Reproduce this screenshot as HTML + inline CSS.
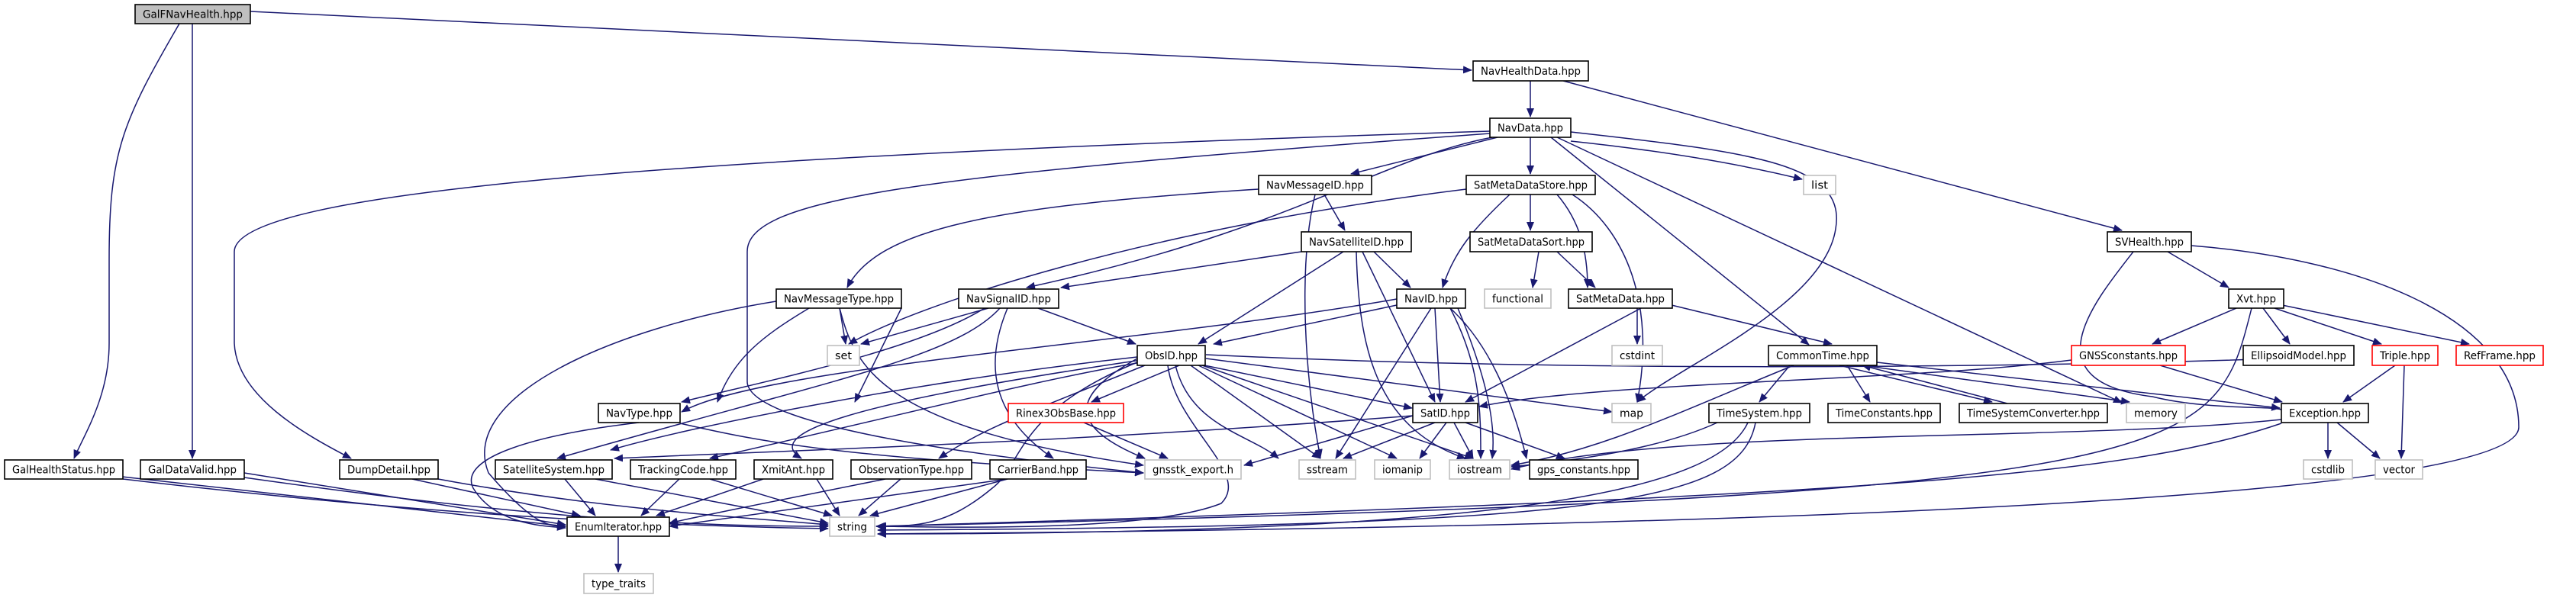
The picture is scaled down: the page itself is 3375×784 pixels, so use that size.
<!DOCTYPE html>
<html><head><meta charset="utf-8"><style>
html,body{margin:0;padding:0;background:#fff;}
svg{display:block;}
text{font-family:"DejaVu Sans","Liberation Sans",sans-serif;font-size:14px;fill:#000;}
.n{fill:#fff;stroke:#000;stroke-width:1.6;}
.g{fill:#fff;stroke:#bfbfbf;stroke-width:1.6;}
.r{fill:#fff;stroke:#ff0000;stroke-width:1.6;}
.e{fill:none;stroke:#191970;stroke-width:1.5;marker-end:url(#a);}
</style></head><body>
<svg width="3375" height="784" viewBox="0 0 3375 784" xmlns="http://www.w3.org/2000/svg">
<defs><marker id="a" markerWidth="12" markerHeight="10" refX="11" refY="5" orient="auto" markerUnits="userSpaceOnUse"><path d="M0,0 L12,5 L0,10 z" fill="#191970"/></marker></defs>
<g>
<path class="e" d="M328 15 L1928 92"/>
<path class="e" d="M235 31 C160 160 143 200 143 340 L143 450 C143 520 110 570 97 601"/>
<path class="e" d="M252 31 L252 601"/>
<path class="e" d="M2005 106 L2005 153"/>
<path class="e" d="M2048 106 L2780 302"/>
<path class="e" d="M1952 172 C900 205 307 250 307 330 L307 450 C310 520 400 570 460 601"/>
<path class="e" d="M1952 175 C1200 230 979 260 979 330 L979 500 C979 560 1300 600 1498 620"/>
<path class="e" d="M1962 180 L1770 228"/>
<path class="e" d="M2005 180 L2005 228"/>
<path class="e" d="M1955 180 C1800 210 1700 300 1345 377"/>
<path class="e" d="M2058 185 C2200 200 2300 220 2361 235"/>
<path class="e" d="M2058 173 C2300 200 2420 215 2405 300 C2390 400 2200 480 2145 527"/>
<path class="e" d="M2040 180 L2780 528"/>
<path class="e" d="M2032 180 L2370 452"/>
<path class="e" d="M1649 248 C1300 270 1150 300 1110 377"/>
<path class="e" d="M1735 255 L1762 302"/>
<path class="e" d="M1723 255 C1700 350 1710 500 1730 600"/>
<path class="e" d="M1921 248 C1500 300 1200 400 1112 451"/>
<path class="e" d="M1978 255 C1930 300 1905 330 1890 377"/>
<path class="e" d="M2005 255 L2005 302"/>
<path class="e" d="M2040 255 C2070 290 2080 330 2080 377"/>
<path class="e" d="M2060 255 C2130 300 2170 400 2145 527"/>
<path class="e" d="M1705 330 L1390 377"/>
<path class="e" d="M1760 330 L1570 451"/>
<path class="e" d="M1800 330 L1848 377"/>
<path class="e" d="M1785 330 L1880 527"/>
<path class="e" d="M1777 330 C1780 450 1800 560 1920 601"/>
<path class="e" d="M2016 330 L2008 377"/>
<path class="e" d="M2040 330 L2090 377"/>
<path class="e" d="M1060 404 C1000 440 960 470 940 527"/>
<path class="e" d="M1017 395 C800 430 600 520 640 620 C700 690 720 690 741 690"/>
<path class="e" d="M1100 404 C1120 480 1150 560 1498 610"/>
<path class="e" d="M1181 404 L1120 527"/>
<path class="e" d="M1100 404 L1108 451"/>
<path class="e" d="M1295 404 L1128 451"/>
<path class="e" d="M1360 404 L1488 451"/>
<path class="e" d="M1290 404 C1200 460 1000 500 893 527"/>
<path class="e" d="M1310 404 C1250 470 1080 500 730 601"/>
<path class="e" d="M1320 404 C1280 500 1320 560 1380 601"/>
<path class="e" d="M1830 400 L1590 451"/>
<path class="e" d="M1830 392 C1500 450 1000 480 893 540"/>
<path class="e" d="M1880 404 L1887 527"/>
<path class="e" d="M1875 404 L1750 601"/>
<path class="e" d="M1900 404 C1940 480 1940 540 1940 601"/>
<path class="e" d="M1910 404 C1950 500 1960 560 1955 601"/>
<path class="e" d="M1900 404 C1950 450 1980 520 2000 601"/>
<path class="e" d="M2150 404 L1920 527"/>
<path class="e" d="M2145 404 L2145 451"/>
<path class="e" d="M2190 400 L2400 451"/>
<path class="e" d="M1580 470 L2112 540"/>
<path class="e" d="M1580 465 C2100 490 2700 480 2987 470"/>
<path class="e" d="M1545 479 L1430 527"/>
<path class="e" d="M1578 479 L1850 535"/>
<path class="e" d="M1560 479 L1730 601"/>
<path class="e" d="M1570 479 L1830 601"/>
<path class="e" d="M1575 479 L1930 601"/>
<path class="e" d="M1540 479 C1560 560 1640 570 1675 601"/>
<path class="e" d="M1490 470 C1400 520 1400 560 1500 601"/>
<path class="e" d="M1530 479 C1540 560 1640 620 1600 660 C1500 700 1200 690 1148 690"/>
<path class="e" d="M1500 479 C1350 540 1290 560 1230 601"/>
<path class="e" d="M1495 475 C1350 500 1200 540 930 601"/>
<path class="e" d="M1495 472 C1100 530 1000 570 1050 601"/>
<path class="e" d="M1490 468 C1200 500 900 560 800 590"/>
<path class="e" d="M1490 475 C1330 540 1340 610 1300 640 C1240 690 1200 690 1148 690"/>
<path class="e" d="M1420 554 L1530 601"/>
<path class="e" d="M1851 545 C1400 580 1050 590 805 601"/>
<path class="e" d="M1851 545 L1630 610"/>
<path class="e" d="M1880 554 L1760 601"/>
<path class="e" d="M1895 554 L1860 601"/>
<path class="e" d="M1905 554 L1930 601"/>
<path class="e" d="M1920 554 L2050 601"/>
<path class="e" d="M2350 479 C2200 540 2100 590 1980 610"/>
<path class="e" d="M2345 479 L2305 527"/>
<path class="e" d="M2420 479 L2450 527"/>
<path class="e" d="M2410 479 L2610 527"/>
<path class="e" d="M2630 529 L2440 479"/>
<path class="e" d="M2440 479 L2790 527"/>
<path class="e" d="M2459 475 L2987 535"/>
<path class="e" d="M2714 472 C2500 500 2100 500 1938 533"/>
<path class="e" d="M2830 479 L2990 527"/>
<path class="e" d="M2250 554 C2150 600 1990 610 1980 612"/>
<path class="e" d="M2290 554 C2250 640 2000 700 1150 700"/>
<path class="e" d="M2300 554 C2280 660 2100 690 1150 695"/>
<path class="e" d="M2989 550 C2700 580 2200 560 1980 615"/>
<path class="e" d="M2989 555 C2800 620 2500 650 1150 690"/>
<path class="e" d="M3050 554 L3050 601"/>
<path class="e" d="M3062 554 L3118 601"/>
<path class="e" d="M3138 479 L3070 527"/>
<path class="e" d="M3150 479 L3146 601"/>
<path class="e" d="M2930 404 L2820 451"/>
<path class="e" d="M2965 404 L3000 451"/>
<path class="e" d="M2980 404 L3120 451"/>
<path class="e" d="M2990 400 L3235 451"/>
<path class="e" d="M2950 404 C2900 600 2900 650 1150 690"/>
<path class="e" d="M2795 330 C2740 400 2660 500 2820 520 C2900 540 3000 530 2990 540"/>
<path class="e" d="M2871 322 C3100 340 3300 420 3300 560 C3300 650 2400 690 1150 700"/>
<path class="e" d="M2840 330 L2920 377"/>
<path class="e" d="M160 625 L741 690"/>
<path class="e" d="M161 628 C600 680 900 690 1085 693"/>
<path class="e" d="M320 620 L741 688"/>
<path class="e" d="M320 626 C700 680 900 690 1085 690"/>
<path class="e" d="M540 628 L760 676"/>
<path class="e" d="M574 628 C800 670 1000 680 1085 688"/>
<path class="e" d="M740 628 L780 676"/>
<path class="e" d="M780 628 L1085 686"/>
<path class="e" d="M890 628 L840 676"/>
<path class="e" d="M930 628 L1090 676"/>
<path class="e" d="M1000 628 L860 676"/>
<path class="e" d="M1070 628 L1100 676"/>
<path class="e" d="M1160 628 C1000 660 900 680 877 686"/>
<path class="e" d="M1180 628 L1125 676"/>
<path class="e" d="M1320 628 C1100 660 950 680 877 690"/>
<path class="e" d="M1320 628 L1140 676"/>
<path class="e" d="M837 554 C700 570 600 600 620 640 C650 690 720 690 741 692"/>
<path class="e" d="M891 555 C1000 580 1100 600 1498 620"/>
<path class="e" d="M810 703 L810 750"/>
</g>
<g>
<rect x="177" y="6" width="151" height="25" fill="#bfbfbf" stroke="#000" stroke-width="1.6"/><text x="252.5" y="23.5" text-anchor="middle" textLength="131" lengthAdjust="spacingAndGlyphs">GalFNavHealth.hpp</text>
<rect class="n" x="1930" y="80" width="151" height="26"/><text x="2005.5" y="98" text-anchor="middle" textLength="131" lengthAdjust="spacingAndGlyphs">NavHealthData.hpp</text>
<rect class="n" x="1952" y="155" width="106" height="25"/><text x="2005" y="172.5" text-anchor="middle" textLength="86" lengthAdjust="spacingAndGlyphs">NavData.hpp</text>
<rect class="n" x="1649" y="230" width="148" height="25"/><text x="1723" y="247.5" text-anchor="middle" textLength="128" lengthAdjust="spacingAndGlyphs">NavMessageID.hpp</text>
<rect class="n" x="1921" y="230" width="169" height="25"/><text x="2005.5" y="247.5" text-anchor="middle" textLength="149" lengthAdjust="spacingAndGlyphs">SatMetaDataStore.hpp</text>
<rect class="g" x="2363" y="230" width="42" height="25"/><text x="2384" y="247.5" text-anchor="middle" textLength="22" lengthAdjust="spacingAndGlyphs">list</text>
<rect class="n" x="1705" y="304" width="144" height="26"/><text x="1777" y="322" text-anchor="middle" textLength="124" lengthAdjust="spacingAndGlyphs">NavSatelliteID.hpp</text>
<rect class="n" x="1926" y="304" width="160" height="26"/><text x="2006" y="322" text-anchor="middle" textLength="140" lengthAdjust="spacingAndGlyphs">SatMetaDataSort.hpp</text>
<rect class="n" x="2761" y="304" width="110" height="26"/><text x="2816" y="322" text-anchor="middle" textLength="90" lengthAdjust="spacingAndGlyphs">SVHealth.hpp</text>
<rect class="n" x="1017" y="379" width="164" height="25"/><text x="1099" y="396.5" text-anchor="middle" textLength="144" lengthAdjust="spacingAndGlyphs">NavMessageType.hpp</text>
<rect class="n" x="1256" y="379" width="131" height="25"/><text x="1321.5" y="396.5" text-anchor="middle" textLength="111" lengthAdjust="spacingAndGlyphs">NavSignalID.hpp</text>
<rect class="n" x="1830" y="379" width="90" height="25"/><text x="1875" y="396.5" text-anchor="middle" textLength="70" lengthAdjust="spacingAndGlyphs">NavID.hpp</text>
<rect class="g" x="1945" y="379" width="87" height="25"/><text x="1988.5" y="396.5" text-anchor="middle" textLength="67" lengthAdjust="spacingAndGlyphs">functional</text>
<rect class="n" x="2055" y="379" width="136" height="25"/><text x="2123" y="396.5" text-anchor="middle" textLength="116" lengthAdjust="spacingAndGlyphs">SatMetaData.hpp</text>
<rect class="n" x="2920" y="379" width="72" height="25"/><text x="2956" y="396.5" text-anchor="middle" textLength="52" lengthAdjust="spacingAndGlyphs">Xvt.hpp</text>
<rect class="g" x="1084" y="453" width="42" height="26"/><text x="1105" y="471" text-anchor="middle" textLength="22" lengthAdjust="spacingAndGlyphs">set</text>
<rect class="n" x="1490" y="453" width="89" height="26"/><text x="1534.5" y="471" text-anchor="middle" textLength="69" lengthAdjust="spacingAndGlyphs">ObsID.hpp</text>
<rect class="g" x="2112" y="453" width="66" height="26"/><text x="2145" y="471" text-anchor="middle" textLength="46" lengthAdjust="spacingAndGlyphs">cstdint</text>
<rect class="n" x="2317" y="453" width="142" height="26"/><text x="2388" y="471" text-anchor="middle" textLength="122" lengthAdjust="spacingAndGlyphs">CommonTime.hpp</text>
<rect class="r" x="2714" y="453" width="149" height="26"/><text x="2788.5" y="471" text-anchor="middle" textLength="129" lengthAdjust="spacingAndGlyphs">GNSSconstants.hpp</text>
<rect class="n" x="2939" y="453" width="145" height="26"/><text x="3011.5" y="471" text-anchor="middle" textLength="125" lengthAdjust="spacingAndGlyphs">EllipsoidModel.hpp</text>
<rect class="r" x="3108" y="453" width="86" height="26"/><text x="3151" y="471" text-anchor="middle" textLength="66" lengthAdjust="spacingAndGlyphs">Triple.hpp</text>
<rect class="r" x="3218" y="453" width="114" height="26"/><text x="3275" y="471" text-anchor="middle" textLength="94" lengthAdjust="spacingAndGlyphs">RefFrame.hpp</text>
<rect class="n" x="784" y="529" width="107" height="25"/><text x="837.5" y="546.5" text-anchor="middle" textLength="87" lengthAdjust="spacingAndGlyphs">NavType.hpp</text>
<rect class="r" x="1321" y="529" width="151" height="25"/><text x="1396.5" y="546.5" text-anchor="middle" textLength="131" lengthAdjust="spacingAndGlyphs">Rinex3ObsBase.hpp</text>
<rect class="n" x="1851" y="529" width="85" height="25"/><text x="1893.5" y="546.5" text-anchor="middle" textLength="65" lengthAdjust="spacingAndGlyphs">SatID.hpp</text>
<rect class="g" x="2112" y="529" width="51" height="25"/><text x="2137.5" y="546.5" text-anchor="middle" textLength="31" lengthAdjust="spacingAndGlyphs">map</text>
<rect class="n" x="2239" y="529" width="132" height="25"/><text x="2305" y="546.5" text-anchor="middle" textLength="112" lengthAdjust="spacingAndGlyphs">TimeSystem.hpp</text>
<rect class="n" x="2395" y="529" width="147" height="25"/><text x="2468.5" y="546.5" text-anchor="middle" textLength="127" lengthAdjust="spacingAndGlyphs">TimeConstants.hpp</text>
<rect class="n" x="2567" y="529" width="194" height="25"/><text x="2664" y="546.5" text-anchor="middle" textLength="174" lengthAdjust="spacingAndGlyphs">TimeSystemConverter.hpp</text>
<rect class="g" x="2786" y="529" width="77" height="25"/><text x="2824.5" y="546.5" text-anchor="middle" textLength="57" lengthAdjust="spacingAndGlyphs">memory</text>
<rect class="n" x="2989" y="529" width="114" height="25"/><text x="3046" y="546.5" text-anchor="middle" textLength="94" lengthAdjust="spacingAndGlyphs">Exception.hpp</text>
<rect class="n" x="6" y="603" width="155" height="25"/><text x="83.5" y="620.5" text-anchor="middle" textLength="135" lengthAdjust="spacingAndGlyphs">GalHealthStatus.hpp</text>
<rect class="n" x="184" y="603" width="136" height="25"/><text x="252" y="620.5" text-anchor="middle" textLength="116" lengthAdjust="spacingAndGlyphs">GalDataValid.hpp</text>
<rect class="n" x="445" y="603" width="129" height="25"/><text x="509.5" y="620.5" text-anchor="middle" textLength="109" lengthAdjust="spacingAndGlyphs">DumpDetail.hpp</text>
<rect class="n" x="649" y="603" width="153" height="25"/><text x="725.5" y="620.5" text-anchor="middle" textLength="133" lengthAdjust="spacingAndGlyphs">SatelliteSystem.hpp</text>
<rect class="n" x="826" y="603" width="138" height="25"/><text x="895" y="620.5" text-anchor="middle" textLength="118" lengthAdjust="spacingAndGlyphs">TrackingCode.hpp</text>
<rect class="n" x="988" y="603" width="103" height="25"/><text x="1039.5" y="620.5" text-anchor="middle" textLength="83" lengthAdjust="spacingAndGlyphs">XmitAnt.hpp</text>
<rect class="n" x="1115" y="603" width="158" height="25"/><text x="1194" y="620.5" text-anchor="middle" textLength="138" lengthAdjust="spacingAndGlyphs">ObservationType.hpp</text>
<rect class="n" x="1297" y="603" width="126" height="25"/><text x="1360" y="620.5" text-anchor="middle" textLength="106" lengthAdjust="spacingAndGlyphs">CarrierBand.hpp</text>
<rect class="g" x="1500" y="603" width="126" height="25"/><text x="1563" y="620.5" text-anchor="middle" textLength="106" lengthAdjust="spacingAndGlyphs">gnsstk_export.h</text>
<rect class="g" x="1702" y="603" width="74" height="25"/><text x="1739" y="620.5" text-anchor="middle" textLength="54" lengthAdjust="spacingAndGlyphs">sstream</text>
<rect class="g" x="1801" y="603" width="73" height="25"/><text x="1837.5" y="620.5" text-anchor="middle" textLength="53" lengthAdjust="spacingAndGlyphs">iomanip</text>
<rect class="g" x="1899" y="603" width="79" height="25"/><text x="1938.5" y="620.5" text-anchor="middle" textLength="59" lengthAdjust="spacingAndGlyphs">iostream</text>
<rect class="n" x="2004" y="603" width="142" height="25"/><text x="2075" y="620.5" text-anchor="middle" textLength="122" lengthAdjust="spacingAndGlyphs">gps_constants.hpp</text>
<rect class="g" x="3018" y="603" width="64" height="25"/><text x="3050" y="620.5" text-anchor="middle" textLength="44" lengthAdjust="spacingAndGlyphs">cstdlib</text>
<rect class="g" x="3112" y="603" width="62" height="25"/><text x="3143" y="620.5" text-anchor="middle" textLength="42" lengthAdjust="spacingAndGlyphs">vector</text>
<rect class="n" x="743" y="678" width="134" height="25"/><text x="810" y="695.5" text-anchor="middle" textLength="114" lengthAdjust="spacingAndGlyphs">EnumIterator.hpp</text>
<rect class="g" x="1087" y="678" width="59" height="25"/><text x="1116.5" y="695.5" text-anchor="middle" textLength="39" lengthAdjust="spacingAndGlyphs">string</text>
<rect class="g" x="765" y="752" width="91" height="26"/><text x="810.5" y="770" text-anchor="middle" textLength="71" lengthAdjust="spacingAndGlyphs">type_traits</text>
</g>
</svg>
</body></html>
